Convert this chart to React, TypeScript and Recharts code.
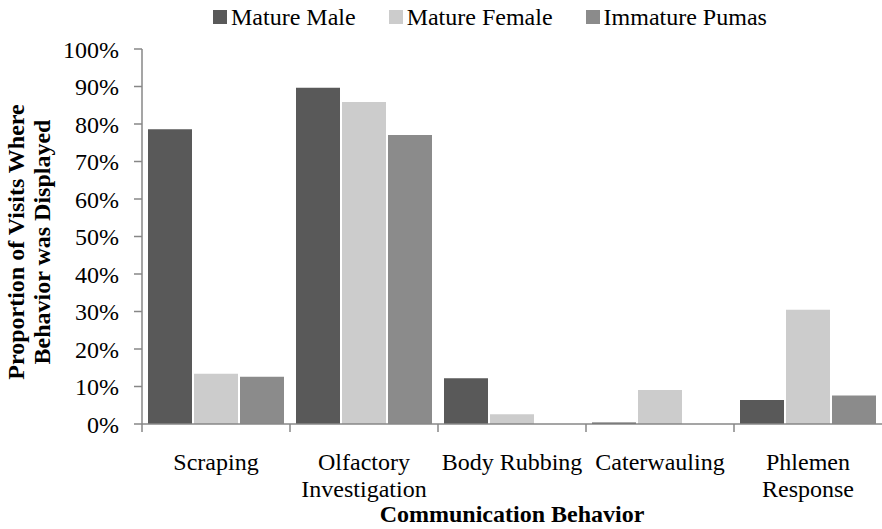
import React from 'react';
import { BarChart, Bar, XAxis, YAxis, Legend } from 'recharts';

const categories = ['Scraping', 'Olfactory Investigation', 'Body Rubbing', 'Caterwauling', 'Phlemen Response'];
const tickLines = [['Scraping'], ['Olfactory', 'Investigation'], ['Body Rubbing'], ['Caterwauling'], ['Phlemen', 'Response']];
const seriesNames = ['Mature Male', 'Mature Female', 'Immature Pumas'];
const matureMale = [78.6, 89.7, 12.2, 0.4, 6.4];
const matureFemale = [13.4, 85.9, 2.6, 9.1, 30.5];
const immaturePumas = [12.6, 77.1, 0, 0, 7.6];
const yTicks = [0, 10, 20, 30, 40, 50, 60, 70, 80, 90, 100];

const data = categories.map((c, i) => ({
  name: c,
  male: matureMale[i],
  female: matureFemale[i],
  immature: immaturePumas[i],
}));

const W = 882;
const H = 529;
const Y_W = 142;
const BAND = (W - Y_W) / categories.length;
const FONT = 'Liberation Serif, serif';
const AXIS = '#878787';

const XTick = (props: any) => {
  const { x, y, index } = props;
  const left = x - BAND / 2;
  const lines = tickLines[index] || [];
  return (
    <g>
      <line x1={left} y1={y - 8} x2={left} y2={y} stroke={AXIS} strokeWidth={1.5} />
      {lines.map((l, i) => (
        <text
          key={i}
          x={x}
          y={y + 30 + i * 27}
          textAnchor="middle"
          dominantBaseline="central"
          fontFamily={FONT}
          fontSize={24}
          fill="#000"
        >
          {l}
        </text>
      ))}
    </g>
  );
};

const renderLegend = (props: any) => {
  const items = [...(props.payload || [])].sort(
    (a: any, b: any) => seriesNames.indexOf(a.value) - seriesNames.indexOf(b.value)
  );
  return (
    <div style={{ height: 34, display: 'flex', alignItems: 'center', paddingLeft: 213, gap: 33, fontFamily: FONT, fontSize: 24, color: '#000' }}>
      {items.map((p: any) => (
        <div key={p.value} style={{ display: 'flex', alignItems: 'center' }}>
          <span style={{ width: 14, height: 14, background: p.color, marginRight: 4, display: 'inline-block' }} />
          <span style={{ fontFamily: FONT }}>{p.value}</span>
        </div>
      ))}
    </div>
  );
};

export default function App() {
  return (
    <div style={{ position: 'absolute', left: 0, top: 0, width: W, height: H, background: '#fff', fontFamily: FONT }}>
      <BarChart
        width={W}
        height={H}
        data={data}
        margin={{ top: 15, right: 0, bottom: 0, left: 0 }}
        barCategoryGap={6}
        barGap={2}
      >
        <Legend verticalAlign="top" align="left" height={34} content={renderLegend} wrapperStyle={{ top: 0, left: 0, fontFamily: FONT }} />
        <XAxis
          dataKey="name"
          height={105}
          axisLine={{ stroke: AXIS, strokeWidth: 1.5 }}
          tickLine={false}
          tickSize={8}
          tickMargin={0}
          interval={0}
          tick={<XTick />}
          label={{
            content: (p: any) => (
              <text
                x={p.viewBox.x + p.viewBox.width / 2}
                y={514}
                textAnchor="middle"
                dominantBaseline="central"
                fontFamily={FONT}
                fontSize={24}
                fontWeight="bold"
                fill="#000"
              >
                Communication Behavior
              </text>
            ),
          }}
        />
        <YAxis
          width={Y_W}
          domain={[0, 100]}
          ticks={yTicks}
          interval={0}
          tickFormatter={(v: number) => `${v}%`}
          axisLine={{ stroke: AXIS, strokeWidth: 1.5 }}
          tickLine={{ stroke: AXIS, strokeWidth: 1.5 }}
          tickSize={8}
          tickMargin={15}
          tick={{ fontFamily: FONT, fontSize: 24, fill: '#000' }}
          label={{
            content: () => (
              <g fontFamily={FONT} fontSize={24} fontWeight="bold" fill="#000">
                <text x={16} y={242} textAnchor="middle" dominantBaseline="central" transform="rotate(-90 16 242)">
                  Proportion of Visits Where
                </text>
                <text x={42} y={242} textAnchor="middle" dominantBaseline="central" transform="rotate(-90 42 242)">
                  Behavior was Displayed
                </text>
              </g>
            ),
          }}
        />
        <Bar dataKey="male" name={seriesNames[0]} fill="#595959" isAnimationActive={false} />
        <Bar dataKey="female" name={seriesNames[1]} fill="#cccccc" isAnimationActive={false} />
        <Bar dataKey="immature" name={seriesNames[2]} fill="#8b8b8b" isAnimationActive={false} />
      </BarChart>
    </div>
  );
}
